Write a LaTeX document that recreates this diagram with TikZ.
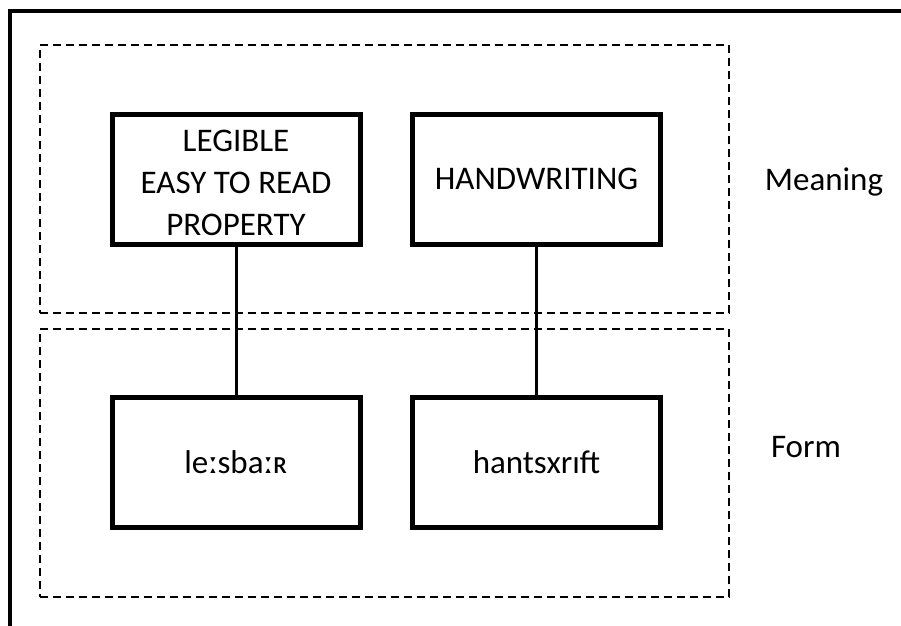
\documentclass[tikz,border=0pt]{standalone}
\usepackage{fontspec}
\setmainfont{Carlito}
\begin{document}
\begin{tikzpicture}[x=1pt,y=-1pt,
  word/.style={draw,line width=5pt,minimum width=248pt,minimum height=130pt,align=center,
    font=\fontsize{33}{42}\selectfont,inner sep=0pt},
  grp/.style={draw,line width=2.2pt,dash pattern=on 8pt off 5pt},
  lab/.style={font=\fontsize{33}{36}\selectfont,inner sep=0pt},
  link/.style={line width=3pt}]
\useasboundingbox (0,0) rectangle (901,625);
\draw[line width=4pt] (10,640) -- (10,11) -- (920,11);
\node[grp,minimum width=689pt,minimum height=268pt,inner sep=0pt] (meaningbox) at (384.5,179) {};
\node[grp,minimum width=689pt,minimum height=268pt,inner sep=0pt] (formbox) at (384.5,463) {};
\node[word] (legible) at (236,179) {\raisebox{-12pt}[0pt][0pt]{\begin{tabular}{@{}c@{}}LEGIBLE\\EASY TO READ\\PROPERTY\end{tabular}}};
\node[word] (handwriting) at (536.5,179) {HANDWRITING};
\node[word] (lesbar) at (236,462.5) {le\char"02D0 sba\char"02D0 \char"0280};
\node[word] (hantsxrift) at (536.5,462.5) {hantsxr\char"0131 ft};
\draw[link] (legible) -- (lesbar);
\draw[link] (handwriting) -- (hantsxrift);
\node[lab] (meaning) at (824,182) {Meaning};
\node[lab] (form) at (806,447) {Form};
\end{tikzpicture}
\end{document}
